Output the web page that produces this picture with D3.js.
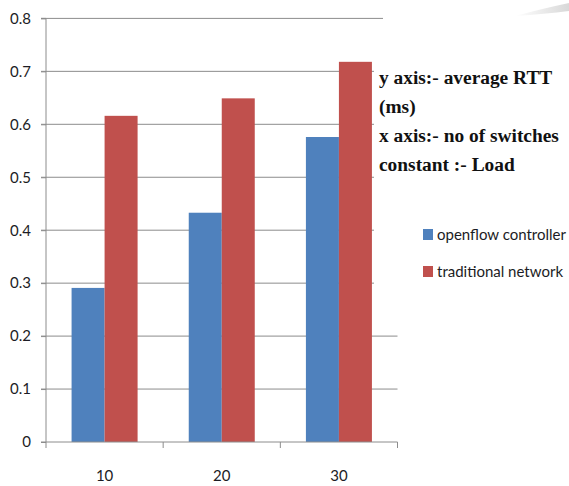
<!DOCTYPE html>
<html><head><meta charset="utf-8">
<script src="https://cdn.jsdelivr.net/npm/d3@7/dist/d3.min.js"></script>
<style>body{margin:0;background:#fff;}svg{display:block;}</style>
</head><body>
<svg id="c" width="569" height="486"></svg>
<script>
const categories = ["10", "20", "30"];
const seriesNames = ["openflow controller", "traditional network"];
const openflowValues = [0.291, 0.433, 0.576];
const traditionalValues = [0.616, 0.649, 0.718];
const yTicks = [0, 0.1, 0.2, 0.3, 0.4, 0.5, 0.6, 0.7, 0.8];
const noteLines = ["y axis:- average RTT", "(ms)", "x axis:- no of switches", "constant :- Load"];
const colors = ["#4f81bd", "#c0504d"];

const svg = d3.select("#c");
const plotLeft = 46, plotRight = 397.5, plotTop = 18.4, plotBottom = 442;
const labelFont = "Lato, 'Open Sans', sans-serif";
const textColor = "#1c1c24";
const gridColor = "#8c8c8c";

const x = d3.scaleBand().domain(categories).range([plotLeft, plotRight]).paddingInner(0).paddingOuter(0);
const x1 = d3.scaleBand().domain(seriesNames).range([0, x.bandwidth()]).paddingInner(0).paddingOuter(0.775);
const y = d3.scaleLinear().domain([0, 0.8]).range([plotBottom, plotTop]);

// gridlines
svg.append("g").selectAll("line").data(yTicks.filter(d => d > 0)).join("line")
  .attr("x1", plotLeft - 5).attr("x2", plotRight)
  .attr("y1", d => y(d)).attr("y2", d => y(d))
  .attr("stroke", gridColor).attr("stroke-width", 1);

// bars
const data = categories.map((c, i) => ({c, vals: [openflowValues[i], traditionalValues[i]]}));
const g = svg.append("g").selectAll("g").data(data).join("g")
  .attr("transform", d => `translate(${x(d.c)},0)`);
g.selectAll("rect").data(d => d.vals.map((v, k) => ({v, k}))).join("rect")
  .attr("x", d => x1(seriesNames[d.k]))
  .attr("width", x1.bandwidth())
  .attr("y", d => y(d.v))
  .attr("height", d => y(0) - y(d.v))
  .attr("fill", d => colors[d.k]);

// y axis
const yAxis = d3.axisLeft(y).tickValues(yTicks).tickSize(5).tickPadding(10)
  .tickFormat(d => d === 0 ? "0" : d3.format(".1f")(d));
const ya = svg.append("g").attr("transform", `translate(${plotLeft},0)`).call(yAxis);
ya.select(".domain").attr("stroke", gridColor).attr("d", `M-5,${plotTop}H0V${plotBottom}`);
ya.selectAll(".tick line").attr("stroke", gridColor);
ya.selectAll("text").attr("font-family", labelFont).attr("font-size", 15).attr("fill", textColor);

// x axis
const xa = svg.append("g").attr("transform", `translate(0,${plotBottom})`);
xa.append("line").attr("x1", plotLeft - 5).attr("x2", plotRight).attr("y1", 0).attr("y2", 0).attr("stroke", gridColor);
xa.selectAll("line.t").data(categories.map(c => x(c)).concat([plotRight])).join("line")
  .attr("class", "t").attr("x1", d => d).attr("x2", d => d).attr("y1", 0).attr("y2", 6).attr("stroke", gridColor);
xa.selectAll("text").data(categories).join("text")
  .attr("x", d => x(d) + x.bandwidth() / 2).attr("y", 39)
  .attr("text-anchor", "middle")
  .attr("font-family", labelFont).attr("font-size", 15).attr("fill", textColor)
  .text(d => d);

// white text box overlaying the plot's right edge
svg.append("rect").attr("x", 383).attr("y", 0).attr("width", 186).attr("height", 24).attr("fill", "#fff");
svg.append("rect").attr("x", 374).attr("y", 24).attr("width", 195).attr("height", 276).attr("fill", "#fff");

// faint decorative sweep top-right
const grad = svg.append("defs").append("linearGradient").attr("id", "sw")
  .attr("x1", "0").attr("x2", "1").attr("y1", "0").attr("y2", "0");
grad.append("stop").attr("offset", "0").attr("stop-color", "#ffffff");
grad.append("stop").attr("offset", "1").attr("stop-color", "#d8d8d8");
svg.append("path")
  .attr("d", "M515,16 Q545,8 569,3 L569,11 Q545,14 515,16 Z")
  .attr("fill", "url(#sw)");

// note text
svg.append("g").selectAll("text").data(noteLines).join("text")
  .attr("x", 379).attr("y", (d, i) => 84 + i * 29)
  .attr("font-family", "'Liberation Serif', 'Times New Roman', serif")
  .attr("font-weight", "bold").attr("font-size", 19.4).attr("fill", "#111")
  .text(d => d);

// legend
const lg = svg.append("g").selectAll("g").data(seriesNames).join("g")
  .attr("transform", (d, i) => `translate(423,${229 + i * 37})`);
lg.append("rect").attr("width", 10).attr("height", 11).attr("fill", (d, i) => colors[i]);
lg.append("text").attr("x", 14).attr("y", 11)
  .attr("font-family", labelFont).attr("font-size", 15).attr("fill", textColor)
  .text(d => d);
</script>
</body></html>
